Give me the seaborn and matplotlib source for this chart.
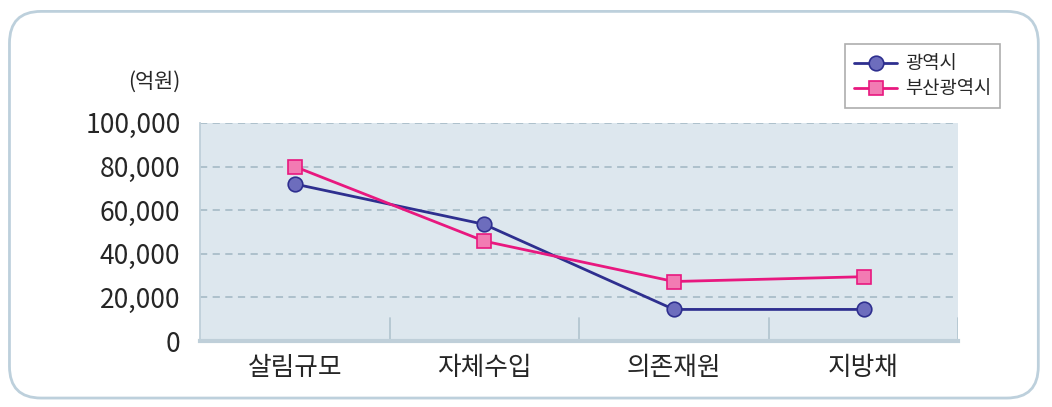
import pandas as pd
import seaborn as sns
import matplotlib.pyplot as plt
from matplotlib.patches import FancyBboxPatch
from matplotlib.ticker import FuncFormatter

categories = ["살림규모", "자체수입", "의존재원", "지방채"]
metro = [72000, 53500, 14500, 14500]
busan = [80000, 45800, 27300, 29500]
series_names = ["광역시", "부산광역시"]

df = pd.DataFrame({
    "항목": categories * 2,
    "값": metro + busan,
    "구분": [series_names[0]] * 4 + [series_names[1]] * 4,
})
df["x"] = df["항목"].map({c: i for i, c in enumerate(categories)})

sns.set_style("white")
plt.rcParams["font.family"] = ["Noto Sans CJK KR", "DejaVu Sans"]

fig = plt.figure(figsize=(10.52, 4.07), dpi=100)
fig.patch.set_facecolor("white")

# rounded outer frame
frame = FancyBboxPatch((0.009, 0.022), 0.978, 0.95, boxstyle="round,pad=0,rounding_size=0.03",
                       transform=fig.transFigure, facecolor="none", edgecolor="#bdd0dc",
                       linewidth=2, mutation_aspect=2.6, zorder=0)
fig.patches.append(frame)

ax = fig.add_axes([0.190, 0.162, 0.721, 0.536])
ax.set_facecolor("#dde7ee")

palette = {"광역시": "#2e2f8f", "부산광역시": "#e8187f"}
sns.lineplot(data=df, x="x", y="값", hue="구분", style="구분", palette=palette,
             markers={"광역시": "o", "부산광역시": "s"}, dashes=False, linewidth=2,
             ax=ax, legend=False, zorder=3)

face = {"광역시": "#6d6dbd", "부산광역시": "#f27bb3"}
sizes = {"광역시": 10.5, "부산광역시": 10.5}
for line, name in zip(ax.get_lines(), series_names):
    line.set_markerfacecolor(face[name])
    line.set_markeredgecolor(palette[name])
    line.set_markeredgewidth(1.2)
    line.set_markersize(sizes[name])

ax.set_xlim(-0.5, 3.5)
ax.set_ylim(0, 100000)
ax.set_yticks(range(0, 100001, 20000))
ax.yaxis.set_major_formatter(FuncFormatter(lambda v, p: f"{int(v):,}"))
ax.set_xticks(range(4))
ax.set_xticklabels(categories, fontsize=18.5)
ax.tick_params(axis="y", labelsize=19, length=0, pad=14)
ax.tick_params(axis="x", length=0, pad=10)
ax.set_xlabel("")
ax.set_ylabel("")

for v in range(20000, 100001, 20000):
    ax.axhline(v, color="#aabdc9", linestyle=(0, (4, 3)), linewidth=1.3, zorder=1)
for b in [0.5, 1.5, 2.5, 3.5]:
    ax.plot([b, b], [0, 10500], color="#b4c6d1", linewidth=1.3, zorder=1)

for s in ["top", "right"]:
    ax.spines[s].set_visible(False)
ax.spines["left"].set_color("#bfcfd9")
ax.spines["left"].set_linewidth(1.3)
ax.spines["bottom"].set_color("#bfcfd9")
ax.spines["bottom"].set_linewidth(3)

fig.text(0.171, 0.80, "(억원)", fontsize=15, ha="right", va="center")

handles = ax.get_lines()[:2]
leg = fig.legend(handles, series_names, loc="upper left", bbox_to_anchor=(0.794, 0.915),
                 fontsize=13.5, frameon=True, fancybox=False, edgecolor="#999999",
                 handlelength=2.3, borderpad=0.5, labelspacing=0.2, handletextpad=0.4)
leg.get_frame().set_linewidth(1.2)

fig.savefig("out.png", dpi=100)
